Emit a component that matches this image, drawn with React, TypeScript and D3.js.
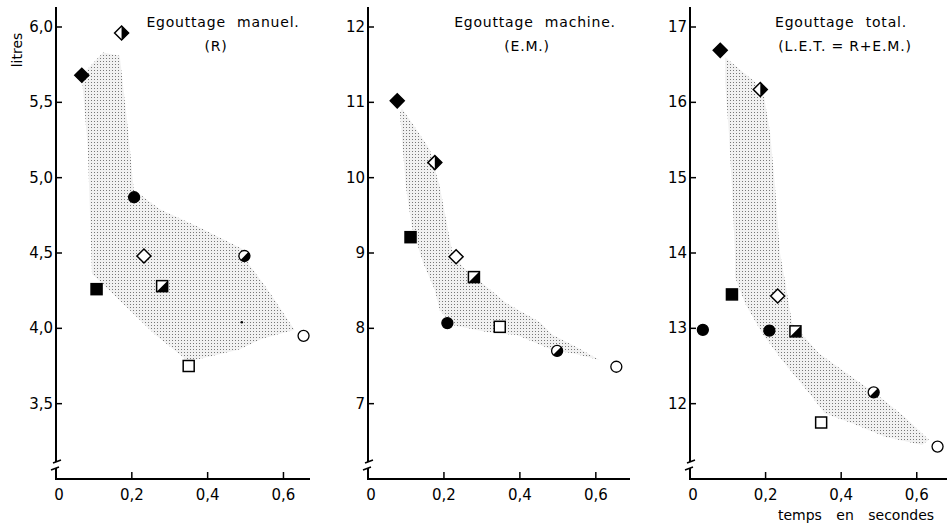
import * as d3 from "d3";
import { useEffect, useRef } from "react";

// marker codes: fd/hd/od = filled, half, open diamond; fs/hs/os squares; fc/hc/oc circles
const manuelMarkers = ["fd", "hd", "fc", "od", "hc", "fs", "hs", "os", "oc", "dot"];
const manuelTemps = [0.068, 0.173, 0.206, 0.232, 0.497, 0.107, 0.28, 0.35, 0.653, 0.49];
const manuelLitres = [5.68, 5.96, 4.87, 4.48, 4.48, 4.26, 4.28, 3.75, 3.95, 4.04];

const machineMarkers = ["fd", "hd", "fs", "od", "hs", "fc", "os", "hc", "oc"];
const machineTemps = [0.077, 0.176, 0.112, 0.232, 0.279, 0.209, 0.347, 0.498, 0.654];
const machineLitres = [11.02, 10.2, 9.21, 8.95, 8.68, 8.07, 8.02, 7.7, 7.49];

const totalMarkers = ["fd", "hd", "fs", "od", "fc", "fc", "hs", "hc", "os", "oc"];
const totalTemps = [0.08, 0.186, 0.111, 0.232, 0.034, 0.21, 0.279, 0.486, 0.347, 0.655];
const totalLitres = [16.69, 16.17, 13.45, 13.43, 12.98, 12.97, 12.96, 12.15, 11.75, 11.43];

// outlines of the stippled zones [temps, litres]
const manuelZone = [
  [0.124, 5.83], [0.168, 5.81], [0.19, 5.32], [0.205, 4.92], [0.274, 4.79],
  [0.379, 4.67], [0.497, 4.52], [0.51, 4.42], [0.558, 4.26], [0.629, 3.99],
  [0.542, 3.93], [0.484, 3.86], [0.35, 3.78], [0.26, 3.96], [0.142, 4.25],
  [0.095, 4.36], [0.084, 5.19], [0.068, 5.68],
];
const machineZone = [
  [0.084, 10.86], [0.092, 10.37], [0.1, 9.87], [0.116, 9.34], [0.145, 8.87],
  [0.176, 8.51], [0.189, 8.24], [0.224, 8.04], [0.313, 7.95], [0.392, 7.91],
  [0.487, 7.71], [0.539, 7.67], [0.61, 7.58], [0.55, 7.75], [0.487, 7.91],
  [0.453, 8.08], [0.366, 8.33], [0.25, 8.81], [0.221, 9.04], [0.189, 9.88],
  [0.163, 10.37], [0.129, 10.63], [0.089, 10.92],
];
const totalZone = [
  [0.093, 16.6], [0.172, 16.27], [0.196, 16.07], [0.212, 15.59], [0.225, 14.88],
  [0.238, 14.0], [0.251, 13.64], [0.27, 13.07], [0.341, 12.67], [0.421, 12.38],
  [0.489, 12.14], [0.569, 11.82], [0.632, 11.52], [0.614, 11.45], [0.516, 11.56],
  [0.429, 11.74], [0.357, 11.87], [0.315, 12.14], [0.243, 12.58], [0.19, 12.94],
  [0.146, 13.33], [0.119, 13.68], [0.119, 14.0], [0.111, 14.88], [0.103, 15.59],
  [0.093, 16.26],
];

const xTicks = [0, 0.2, 0.4, 0.6];
const xTickLabels = ["0", "0,2", "0,4", "0,6"];
const manuelTicks = [3.5, 4, 4.5, 5, 5.5, 6];
const manuelTickLabels = ["3,5", "4,0", "4,5", "5,0", "5,5", "6,0"];
const machineTicks = [7, 8, 9, 10, 11, 12];
const totalTicks = [12, 13, 14, 15, 16, 17];

const panels = [
  {
    title: "Egouttage manuel.", sub: "(R)", titleX: 223, subX: 216,
    left: 56, right: 310, xMax: 0.67, yDom: [3, 6],
    ticks: manuelTicks, tickLabels: manuelTickLabels,
    markers: manuelMarkers, xs: manuelTemps, ys: manuelLitres, zone: manuelZone,
  },
  {
    title: "Egouttage machine.", sub: "(E.M.)", titleX: 535, subX: 527,
    left: 368, right: 630, xMax: 0.69, yDom: [6, 12],
    ticks: machineTicks, tickLabels: machineTicks.map(String),
    markers: machineMarkers, xs: machineTemps, ys: machineLitres, zone: machineZone,
  },
  {
    title: "Egouttage total.", sub: "(L.E.T. = R+E.M.)", titleX: 841, subX: 845,
    left: 690, right: 947, xMax: 0.68, yDom: [11, 17],
    ticks: totalTicks, tickLabels: totalTicks.map(String),
    markers: totalMarkers, xs: totalTemps, ys: totalLitres, zone: totalZone,
  },
];

const FONT = "'DejaVu Sans', sans-serif";

function drawMarker(g: any, type: string, cx: number, cy: number) {
  const d = 7, s = 5.5, r = 5.5;
  const diamond = `M${cx},${cy - d}L${cx + d},${cy}L${cx},${cy + d}L${cx - d},${cy}Z`;
  if (type === "dot") {
    g.append("circle").attr("cx", cx).attr("cy", cy).attr("r", 1.3).attr("fill", "#000");
    return;
  }
  if (type[1] === "d") {
    g.append("path").attr("d", diamond)
      .attr("fill", type === "fd" ? "#000" : "#fff").attr("stroke", "#000").attr("stroke-width", 1.5);
    if (type === "hd") {
      g.append("path").attr("d", `M${cx},${cy - d}L${cx + d},${cy}L${cx},${cy + d}Z`).attr("fill", "#000");
    }
  } else if (type[1] === "s") {
    g.append("rect").attr("x", cx - s).attr("y", cy - s).attr("width", 2 * s).attr("height", 2 * s)
      .attr("fill", type === "fs" ? "#000" : "#fff").attr("stroke", "#000").attr("stroke-width", 1.5);
    if (type === "hs") {
      g.append("path").attr("d", `M${cx + s},${cy - s}L${cx + s},${cy + s}L${cx - s},${cy + s}Z`).attr("fill", "#000");
    }
  } else {
    g.append("circle").attr("cx", cx).attr("cy", cy).attr("r", r)
      .attr("fill", type === "fc" ? "#000" : "#fff").attr("stroke", "#000").attr("stroke-width", 1.3);
    if (type === "hc") {
      const k = r / Math.SQRT2;
      g.append("path")
        .attr("d", `M${cx + k},${cy - k}A${r},${r} 0 0 1 ${cx - k},${cy + k}Z`)
        .attr("fill", "#000");
    }
  }
}

export default function App() {
  const ref = useRef<SVGSVGElement>(null);

  useEffect(() => {
    document.body.style.margin = "0";
    const svg = d3.select(ref.current);
    svg.selectAll("*").remove();

    // stipple pattern for the zones
    const pat = svg.append("defs").append("pattern")
      .attr("id", "stipple").attr("width", 3).attr("height", 3)
      .attr("patternUnits", "userSpaceOnUse");
    pat.append("rect").attr("width", 3).attr("height", 3).attr("fill", "#f1f1f1");
    pat.append("rect").attr("x", 1).attr("y", 1).attr("width", 1).attr("height", 1).attr("fill", "#777");

    svg.append("text")
      .attr("transform", "translate(22,50) rotate(-90)")
      .attr("text-anchor", "middle").attr("font-family", FONT).attr("font-size", 14)
      .text("litres");

    svg.append("text")
      .attr("x", 856).attr("y", 520).attr("text-anchor", "middle")
      .attr("font-family", FONT).attr("font-size", 14).attr("word-spacing", 10)
      .text("temps en secondes");

    panels.forEach(p => {
      const x = d3.scaleLinear().domain([0, p.xMax]).range([p.left, p.right]);
      const y = d3.scaleLinear().domain(p.yDom).range([479, 27]);
      const g = svg.append("g");

      // stippled zone
      const line = d3.line<number[]>().x(d => x(d[0])).y(d => y(d[1])).curve(d3.curveLinearClosed);
      g.append("path").attr("d", line(p.zone)).attr("fill", "url(#stipple)").attr("stroke", "none");

      // y axis with break
      g.append("line").attr("x1", p.left).attr("x2", p.left).attr("y1", 7).attr("y2", 462)
        .attr("stroke", "#000").attr("stroke-width", 2);
      g.append("line").attr("x1", p.left).attr("x2", p.left).attr("y1", 468).attr("y2", 480)
        .attr("stroke", "#000").attr("stroke-width", 2);
      g.append("path")
        .attr("d", `M${p.left - 3},${463}L${p.left + 5},${460}M${p.left - 5},${470}L${p.left + 3},${467}`)
        .attr("stroke", "#000").attr("stroke-width", 1.5).attr("fill", "none");

      // x axis
      g.append("line").attr("x1", p.left - 1).attr("x2", p.right).attr("y1", 479).attr("y2", 479)
        .attr("stroke", "#000").attr("stroke-width", 2);

      p.ticks.forEach((t, i) => {
        g.append("line").attr("x1", p.left).attr("x2", p.left + 6).attr("y1", y(t)).attr("y2", y(t))
          .attr("stroke", "#000").attr("stroke-width", 1.5);
        g.append("text").attr("x", p.left - 3).attr("y", y(t)).attr("dy", "0.33em")
          .attr("text-anchor", "end").attr("font-family", FONT).attr("font-size", 15)
          .text(p.tickLabels[i]);
      });

      xTicks.forEach((t, i) => {
        if (t > 0) {
          g.append("line").attr("x1", x(t)).attr("x2", x(t)).attr("y1", 479).attr("y2", 472)
            .attr("stroke", "#000").attr("stroke-width", 1.5);
        }
        g.append("text").attr("x", x(t) + (t === 0 ? 3 : 0)).attr("y", 500)
          .attr("text-anchor", "middle").attr("font-family", FONT).attr("font-size", 15)
          .text(xTickLabels[i]);
      });

      // titles
      g.append("text").attr("x", p.titleX).attr("y", 27).attr("text-anchor", "middle")
        .attr("font-family", FONT).attr("font-size", 14).attr("letter-spacing", 0.8).attr("word-spacing", 6)
        .text(p.title);
      g.append("text").attr("x", p.subX).attr("y", 51).attr("text-anchor", "middle")
        .attr("font-family", FONT).attr("font-size", 14).attr("letter-spacing", 0.8)
        .text(p.sub);

      // points
      p.markers.forEach((m, i) => drawMarker(g, m, x(p.xs[i]), y(p.ys[i])));
    });
  });

  return (
    <svg ref={ref} width={952} height={528} style={{ display: "block", background: "#fff" }} />
  );
}
